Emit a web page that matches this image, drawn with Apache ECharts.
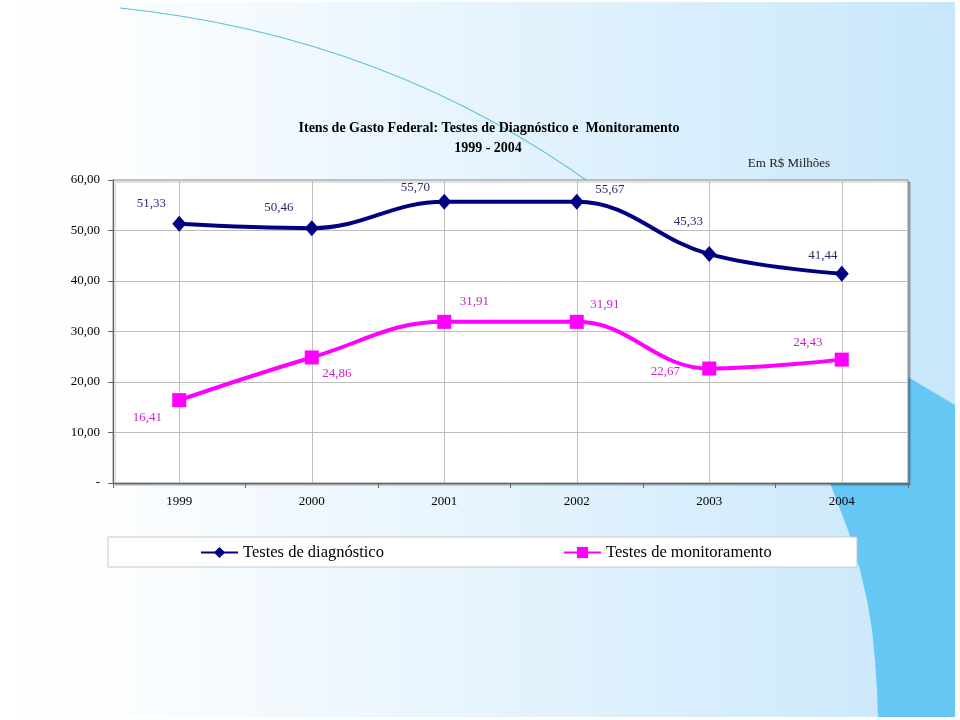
<!DOCTYPE html>
<html>
<head>
<meta charset="utf-8">
<script src="https://cdn.jsdelivr.net/npm/echarts@6/dist/echarts.min.js"></script>
<style>
  html, body { margin: 0; padding: 0; background: #fff; }
  #chart { width: 960px; height: 720px; }
</style>
</head>
<body>
<div id="chart"></div>
<script>
// dados
const anos = ['1999', '2000', '2001', '2002', '2003', '2004']
const diagnostico = [51.33, 50.46, 55.70, 55.67, 45.33, 41.44]
const monitoramento = [16.41, 24.86, 31.91, 31.91, 22.67, 24.43]
const nomes = ['Testes de diagnóstico', 'Testes de monitoramento']
const titulo = 'Itens de Gasto Federal: Testes de Diagnóstico e  Monitoramento'
const subtitulo = '1999 - 2004'
const unidade = 'Em R$ Milhões'

// deslocamento dos rótulos (px) relativo ao ponto
const offDiag = [[-28, -20], [-33, -21], [-29, -14], [33, -12], [-21, -33], [-19, -18]]
const offMon = [[-32, 17], [25, 16], [30, -20], [28, -17], [-44, 3], [-34, -17]]

const serif = 'Liberation Serif'
const fmt = (v) => v.toFixed(2).replace('.', ',')

const chart = echarts.init(document.getElementById('chart'))

function items (vals, offs) {
    return vals.map((v, i) => ({ value: v, label: { offset: offs[i] } }))
}

const option = {
    backgroundColor: '#ffffff',
    animation: false,
    graphic: [
        {
            type: 'rect', z: -20, silent: true,
            shape: { x: 0, y: 2, width: 955, height: 715 },
            style: {
                fill: {
                    type: 'linear', x: 0, y: 0, x2: 1, y2: 0,
                    colorStops: [
                        { offset: 0, color: '#ffffff' },
                        { offset: 0.1, color: '#fdfeff' },
                        { offset: 0.5, color: '#e6f4fd' },
                        { offset: 1, color: '#c8e7fb' }
                    ]
                }
            }
        },
        {
            type: 'polygon', z: -19, silent: true,
            shape: {
                points: [[955, 405], [908, 377], [800, 330], [815, 420], [830, 483],
                    [848, 530], [860, 570], [867, 600], [872, 630], [875, 660], [877, 690], [878, 717], [955, 717]]
            },
            style: { fill: '#66c7f5' }
        },
        {
            type: 'bezierCurve', z: -18, silent: true,
            shape: { x1: 120, y1: 8, cpx1: 390, cpy1: 36, x2: 600, y2: 190 },
            style: { stroke: '#5bbfd6', lineWidth: 1.2, fill: null }
        },
        {
            type: 'rect', z: -10, silent: true,
            shape: { x: 108, y: 537, width: 749, height: 30 },
            style: { fill: '#ffffff', stroke: '#c8c8c8', lineWidth: 1 }
        },
        {
            type: 'text', x: 489, y: 128, silent: true,
            style: {
                text: titulo, fill: '#000', font: 'bold 14px "Liberation Serif"',
                textAlign: 'center', textVerticalAlign: 'middle'
            }
        },
        {
            type: 'text', x: 488, y: 148, silent: true,
            style: {
                text: subtitulo, fill: '#000', font: 'bold 14px "Liberation Serif"',
                textAlign: 'center', textVerticalAlign: 'middle'
            }
        },
        {
            type: 'text', x: 789, y: 164, silent: true,
            style: {
                text: unidade, fill: '#222', font: '13px "Liberation Serif"',
                textAlign: 'center', textVerticalAlign: 'middle'
            }
        }
    ],
    legend: [
        {
            data: [nomes[0]], left: 200, top: 544, padding: 0,
            itemWidth: 37, itemHeight: 14,
            textStyle: { fontFamily: serif, fontSize: 16.5, color: '#000' }
        },
        {
            data: [nomes[1]], left: 563, top: 544, padding: 0,
            itemWidth: 37, itemHeight: 14,
            textStyle: { fontFamily: serif, fontSize: 16.5, color: '#000' }
        }
    ],
    grid: {
        left: 113, right: 52, top: 180, bottom: 237,
        show: true, backgroundColor: '#ffffff',
        borderColor: '#8a8a8a', borderWidth: 1,
        shadowColor: 'rgba(0,0,0,0.25)', shadowOffsetX: 2, shadowOffsetY: 2, shadowBlur: 1
    },
    xAxis: {
        type: 'category',
        data: anos,
        boundaryGap: true,
        axisLine: { lineStyle: { color: '#666', width: 1 } },
        axisTick: { show: true, length: 5, lineStyle: { color: '#666' } },
        axisLabel: { fontFamily: serif, fontSize: 13, color: '#000', margin: 12 },
        splitLine: { show: true, alignWithLabel: true, lineStyle: { color: '#bdbdbd', width: 1 } }
    },
    yAxis: {
        type: 'value',
        min: 0, max: 60, interval: 10,
        axisLine: { show: true, lineStyle: { color: '#666', width: 1 } },
        axisTick: { show: true, length: 5, lineStyle: { color: '#666' } },
        axisLabel: {
            fontFamily: serif, fontSize: 13, color: '#000', margin: 13,
            formatter: (v) => (v === 0 ? '-' : fmt(v))
        },
        splitLine: { show: true, lineStyle: { color: '#bdbdbd', width: 1 } }
    },
    series: [
        {
            name: nomes[0],
            type: 'line',
            smooth: 0.4,
            symbol: 'diamond',
            symbolSize: [14, 16],
            itemStyle: { color: '#000080' },
            lineStyle: { color: '#000080', width: 4 },
            label: {
                show: true, position: 'inside',
                fontFamily: serif, fontSize: 13, color: '#2b2b6b',
                formatter: (p) => fmt(p.value)
            },
            data: items(diagnostico, offDiag)
        },
        {
            name: nomes[1],
            type: 'line',
            smooth: 0.4,
            symbol: 'rect',
            symbolSize: 14,
            itemStyle: { color: '#ff00ff' },
            lineStyle: { color: '#ff00ff', width: 4 },
            label: {
                show: true, position: 'inside',
                fontFamily: serif, fontSize: 13, color: '#cc22cc',
                formatter: (p) => fmt(p.value)
            },
            data: items(monitoramento, offMon)
        }
    ]
}

chart.setOption(option)
</script>
</body>
</html>
